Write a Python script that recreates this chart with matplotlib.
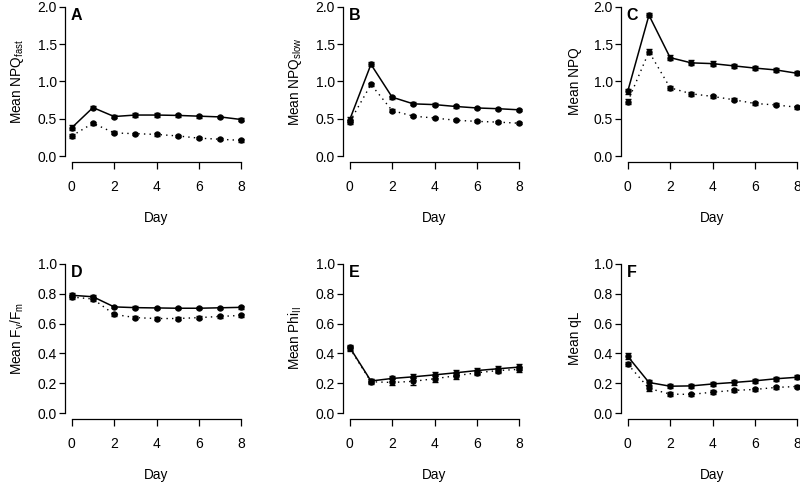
import matplotlib
matplotlib.use("Agg")
import matplotlib.pyplot as plt
import numpy as np

plt.rcParams['font.family'] = ['Liberation Sans', 'DejaVu Sans']
plt.rcParams['mathtext.default'] = 'regular'

days = [0, 1, 2, 3, 4, 5, 6, 7, 8]

# Panel A: NPQfast
a_solid = [0.38, 0.65, 0.53, 0.55, 0.55, 0.545, 0.535, 0.525, 0.49]
a_solid_se = [0.03, 0.025, 0.025, 0.025, 0.025, 0.02, 0.02, 0.015, 0.015]
a_dot = [0.27, 0.44, 0.31, 0.30, 0.29, 0.27, 0.24, 0.225, 0.21]
a_dot_se = [0.025, 0.02, 0.02, 0.015, 0.015, 0.015, 0.015, 0.015, 0.015]

# Panel B: NPQslow
b_solid = [0.49, 1.23, 0.79, 0.70, 0.69, 0.665, 0.645, 0.635, 0.62]
b_solid_se = [0.03, 0.025, 0.02, 0.02, 0.02, 0.015, 0.015, 0.015, 0.015]
b_dot = [0.46, 0.96, 0.61, 0.535, 0.51, 0.48, 0.465, 0.455, 0.44]
b_dot_se = [0.03, 0.025, 0.02, 0.015, 0.015, 0.015, 0.015, 0.015, 0.015]

# Panel C: NPQ
c_solid = [0.87, 1.89, 1.32, 1.25, 1.24, 1.21, 1.18, 1.155, 1.11]
c_solid_se = [0.035, 0.03, 0.035, 0.035, 0.035, 0.03, 0.03, 0.025, 0.025]
c_dot = [0.73, 1.40, 0.915, 0.835, 0.80, 0.755, 0.705, 0.685, 0.655]
c_dot_se = [0.03, 0.03, 0.03, 0.025, 0.02, 0.02, 0.02, 0.02, 0.02]

# Panel D: Fv/Fm
d_solid = [0.79, 0.78, 0.712, 0.707, 0.705, 0.703, 0.703, 0.706, 0.709]
d_solid_se = [0.012, 0.012, 0.008, 0.008, 0.008, 0.008, 0.008, 0.008, 0.008]
d_dot = [0.778, 0.765, 0.662, 0.64, 0.634, 0.634, 0.64, 0.648, 0.655]
d_dot_se = [0.012, 0.012, 0.01, 0.01, 0.01, 0.01, 0.01, 0.01, 0.01]

# Panel E: PhiII
e_solid = [0.44, 0.215, 0.232, 0.243, 0.256, 0.27, 0.285, 0.297, 0.308]
e_solid_se = [0.018, 0.015, 0.018, 0.02, 0.02, 0.02, 0.02, 0.02, 0.02]
e_dot = [0.435, 0.21, 0.205, 0.213, 0.23, 0.25, 0.27, 0.285, 0.293]
e_dot_se = [0.018, 0.015, 0.02, 0.022, 0.02, 0.02, 0.018, 0.018, 0.018]

# Panel F: qL
f_solid = [0.38, 0.205, 0.18, 0.182, 0.195, 0.205, 0.216, 0.23, 0.24]
f_solid_se = [0.02, 0.018, 0.015, 0.015, 0.015, 0.015, 0.015, 0.015, 0.015]
f_dot = [0.328, 0.165, 0.127, 0.125, 0.14, 0.152, 0.158, 0.172, 0.178]
f_dot_se = [0.015, 0.015, 0.012, 0.012, 0.012, 0.012, 0.012, 0.012, 0.012]

panels = [
    ("A", "Mean NPQ$_{fast}$", a_solid, a_solid_se, a_dot, a_dot_se, 2.0, [0, 0.5, 1.0, 1.5, 2.0]),
    ("B", "Mean NPQ$_{slow}$", b_solid, b_solid_se, b_dot, b_dot_se, 2.0, [0, 0.5, 1.0, 1.5, 2.0]),
    ("C", "Mean NPQ", c_solid, c_solid_se, c_dot, c_dot_se, 2.0, [0, 0.5, 1.0, 1.5, 2.0]),
    ("D", "Mean F$_v$/F$_m$", d_solid, d_solid_se, d_dot, d_dot_se, 1.0, [0, 0.2, 0.4, 0.6, 0.8, 1.0]),
    ("E", "Mean Phi$_{II}$", e_solid, e_solid_se, e_dot, e_dot_se, 1.0, [0, 0.2, 0.4, 0.6, 0.8, 1.0]),
    ("F", "Mean qL", f_solid, f_solid_se, f_dot, f_dot_se, 1.0, [0, 0.2, 0.4, 0.6, 0.8, 1.0]),
]

W, H = 800, 483
fig = plt.figure(figsize=(8.0, 4.83), dpi=100)

lefts = [65, 343, 621]
tops = [1, 258]
aw, ah = 183, 161

for i, (letter, ylabel, ys, yse, yd, yde, ymax, yticks) in enumerate(panels):
    r, c = divmod(i, 3)
    l = lefts[c]
    t = tops[r]
    ax = fig.add_axes([l / W, 1 - (t + ah) / H, aw / W, ah / H])
    ax.errorbar(days, ys, yerr=yse, color='black', lw=1.1, marker='o', ms=3.6,
                capsize=2.4, elinewidth=1, capthick=1, linestyle='-')
    ax.errorbar(days, yd, yerr=yde, color='black', lw=1.0, marker='o', ms=3.6,
                capsize=2.4, elinewidth=1, capthick=1, linestyle=(0, (1, 3)))
    ax.set_xlim(-0.32, 8.32)
    ax.set_ylim(-0.04 * ymax, 1.04 * ymax)
    for s in ['top', 'right']:
        ax.spines[s].set_visible(False)
    ax.spines['left'].set_bounds(0, ymax)
    ax.spines['bottom'].set_bounds(0, 8)
    ax.spines['left'].set_linewidth(0.9)
    ax.spines['bottom'].set_linewidth(0.9)
    ax.set_xticks([0, 2, 4, 6, 8])
    ax.set_yticks(yticks)
    ax.set_yticklabels([f"{v:.1f}" for v in yticks])
    ax.tick_params(axis='y', length=4.5, width=0.9, pad=1.5, labelsize=10)
    ax.tick_params(axis='x', length=5, width=0.9, pad=8, labelsize=10)
    ax.set_xlabel("Day", fontsize=9.8, labelpad=12)
    ax.set_ylabel(ylabel, fontsize=9.8, labelpad=8)
    ax.text(-0.05, 0.945 * ymax, letter, fontsize=11.5, fontweight='bold',
            ha='left', va='center')

fig.savefig("out.png", dpi=100)
